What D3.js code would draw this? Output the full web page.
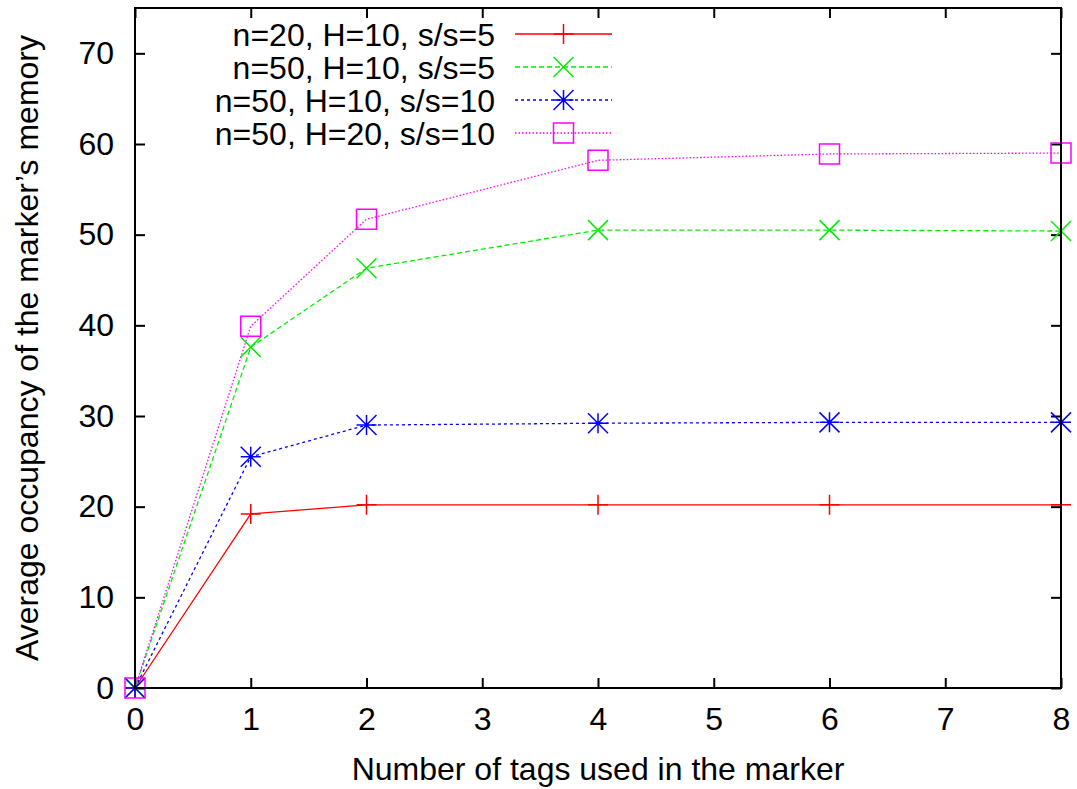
<!DOCTYPE html>
<html>
<head>
<meta charset="utf-8">
<script src="https://cdn.jsdelivr.net/npm/d3@7"></script>
<style>
  html, body { margin: 0; padding: 0; background: #fff; }
  svg { display: block; }
  text { font-family: "Liberation Sans", Arial, sans-serif; fill: #000; }
</style>
</head>
<body>
<svg id="chart" width="1077" height="789"></svg>
<script>
// Number of tags used in the marker
const tags = [0, 1, 2, 4, 6, 8];

// Average occupancy of the marker's memory, one array per configuration
const seriesN20H10S5  = [0, 19.2, 20.2, 20.2, 20.2, 20.2];
const seriesN50H10S5  = [0, 37.6, 46.3, 50.5, 50.5, 50.4];
const seriesN50H10S10 = [0, 25.5, 29.0, 29.2, 29.3, 29.3];
const seriesN50H20S10 = [0, 39.9, 51.7, 58.2, 58.9, 59.0];

const seriesLabels = [
  "n=20, H=10, s/s=5",
  "n=50, H=10, s/s=5",
  "n=50, H=10, s/s=10",
  "n=50, H=20, s/s=10"
];

const xTicks = [0, 1, 2, 3, 4, 5, 6, 7, 8];
const yTicks = [0, 10, 20, 30, 40, 50, 60, 70];

const xTitle = "Number of tags used in the marker";
const yTitle = "Average occupancy of the marker\u2019s memory";

const series = [
  { label: seriesLabels[0], values: seriesN20H10S5,  color: "#ff0000", dash: null,    marker: "plus" },
  { label: seriesLabels[1], values: seriesN50H10S5,  color: "#00ee00", dash: "5,3",   marker: "cross" },
  { label: seriesLabels[2], values: seriesN50H10S10, color: "#0000ff", dash: "3,3",   marker: "star" },
  { label: seriesLabels[3], values: seriesN50H20S10, color: "#ff00ff", dash: "1.5,2", marker: "square" }
];

const svg = d3.select("#chart");
const plot = { left: 135, right: 1061, top: 8, bottom: 688 };

const x = d3.scaleLinear().domain([0, 8]).range([plot.left, plot.right]);
const y = d3.scaleLinear().domain([0, 75]).range([plot.bottom, plot.top]);

const tickLen = 10;
const fontSize = 32;

// Axes: ticks point inward, mirrored on top and right
const axisBottom = d3.axisBottom(x).tickValues(xTicks).tickFormat(d3.format("d"))
  .tickSizeInner(-tickLen).tickSizeOuter(0).tickPadding(19);
const axisTop = d3.axisTop(x).tickValues(xTicks).tickFormat("")
  .tickSizeInner(-tickLen).tickSizeOuter(0);
const axisLeft = d3.axisLeft(y).tickValues(yTicks).tickFormat(d3.format("d"))
  .tickSizeInner(-tickLen).tickSizeOuter(0).tickPadding(21);
const axisRight = d3.axisRight(y).tickValues(yTicks).tickFormat("")
  .tickSizeInner(-tickLen).tickSizeOuter(0);

function styleAxis(g) {
  g.select(".domain").remove();
  g.selectAll(".tick line").attr("stroke", "#000").attr("stroke-width", 2);
  g.selectAll(".tick text").attr("font-size", fontSize).attr("fill", "#000")
    .attr("font-family", "Liberation Sans, Arial, sans-serif");
}

svg.append("g").attr("transform", `translate(0,${plot.bottom})`).call(axisBottom).call(styleAxis);
svg.append("g").attr("transform", `translate(0,${plot.top})`).call(axisTop).call(styleAxis);
svg.append("g").attr("transform", `translate(${plot.left},0)`).call(axisLeft).call(styleAxis);
svg.append("g").attr("transform", `translate(${plot.right},0)`).call(axisRight).call(styleAxis);

// Series lines
const line = d3.line().x((d, i) => x(tags[i])).y(d => y(d));

// Marker shapes, centred on the origin
const mk = 10;
function drawMarker(g, type, color) {
  const s = g.append("g");
  const st = { stroke: color, "stroke-width": 1.5, fill: "none" };
  const add = (d) => { const p = s.append("path").attr("d", d); for (const k in st) p.attr(k, st[k]); };
  if (type === "plus") {
    add(`M${-mk},0H${mk}M0,${-mk}V${mk}`);
  } else if (type === "cross") {
    add(`M${-mk},${-mk}L${mk},${mk}M${-mk},${mk}L${mk},${-mk}`);
  } else if (type === "star") {
    add(`M${-mk},0H${mk}M0,${-mk}V${mk}M${-mk},${-mk}L${mk},${mk}M${-mk},${mk}L${mk},${-mk}`);
  } else if (type === "square") {
    add(`M${-mk},${-mk}H${mk}V${mk}H${-mk}Z`);
  }
  return s;
}

series.forEach(s => {
  svg.append("path")
    .datum(s.values)
    .attr("d", line)
    .attr("fill", "none")
    .attr("stroke", s.color)
    .attr("stroke-width", 1.3)
    .attr("stroke-dasharray", s.dash);
});

series.forEach(s => {
  s.values.forEach((v, i) => {
    drawMarker(svg, s.marker, s.color)
      .attr("transform", `translate(${x(tags[i])},${y(v)})`);
  });
});

// Plot frame
svg.append("rect")
  .attr("x", plot.left).attr("y", plot.top)
  .attr("width", plot.right - plot.left).attr("height", plot.bottom - plot.top)
  .attr("fill", "none").attr("stroke", "#000").attr("stroke-width", 2);

// Legend
const legend = { textRight: 495, lineStart: 515, lineEnd: 612, top: 34, step: 33 };
series.forEach((s, i) => {
  const ly = legend.top + i * legend.step;
  svg.append("text")
    .attr("x", legend.textRight).attr("y", ly)
    .attr("dy", "0.36em")
    .attr("text-anchor", "end")
    .attr("font-size", fontSize)
    .text(s.label);
  svg.append("line")
    .attr("x1", legend.lineStart).attr("x2", legend.lineEnd)
    .attr("y1", ly).attr("y2", ly)
    .attr("stroke", s.color).attr("stroke-width", 1.3)
    .attr("stroke-dasharray", s.dash);
  drawMarker(svg, s.marker, s.color)
    .attr("transform", `translate(${(legend.lineStart + legend.lineEnd) / 2},${ly})`);
});

// Axis titles
svg.append("text")
  .attr("x", (plot.left + plot.right) / 2).attr("y", 780)
  .attr("text-anchor", "middle")
  .attr("font-size", fontSize)
  .text(xTitle);

svg.append("text")
  .attr("transform", `translate(38,${(plot.top + plot.bottom) / 2}) rotate(-90)`)
  .attr("text-anchor", "middle")
  .attr("font-size", fontSize)
  .text(yTitle);
</script>
</body>
</html>
